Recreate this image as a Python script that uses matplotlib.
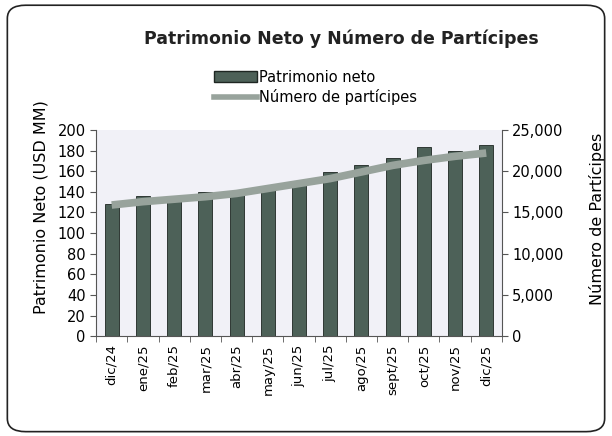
import numpy as np
import matplotlib
matplotlib.use("Agg")
import matplotlib.pyplot as plt
from matplotlib.patches import FancyBboxPatch, Patch
from matplotlib.lines import Line2D

#+++ Data
months = ["dic/24", "ene/25", "feb/25", "mar/25", "abr/25", "may/25", "jun/25",
          "jul/25", "ago/25", "sept/25", "oct/25", "nov/25", "dic/25"]
patrimonio = [128, 136, 131, 140, 137, 143, 148, 159, 166, 173, 183, 180, 185]
participes = [15900, 16300, 16600, 16900, 17300, 17900, 18500, 19100, 19900, 20700, 21300, 21800, 22200]
#---

plt.rcParams["font.family"] = ["DejaVu Sans"]
bar_color = "#4d6158"
line_color = "#98a39c"

fig = plt.figure(figsize=(6.12, 4.36), dpi=100)
fig.patch.set_facecolor("white")
# rounded chart border (drawn behind everything else)
frame = FancyBboxPatch((0.012, 0.01), 0.976, 0.978, boxstyle="round,pad=0,rounding_size=0.03",
                       transform=fig.transFigure, facecolor="none", edgecolor="#222222", lw=1.2, zorder=-1)
fig.patches.append(frame)

ax = fig.add_axes([0.157, 0.229, 0.663, 0.473])
ax.set_facecolor("#f1f1f7")
x = np.arange(len(months))
ax.bar(x, patrimonio, width=0.45, color=bar_color, edgecolor="#1e2622", linewidth=0.6, zorder=2)
ax.set_xlim(-0.5, len(months) - 0.5)
ax.set_ylim(0, 200)
ax.set_yticks(np.arange(0, 201, 20))
ax.tick_params(axis="y", labelsize=10.5, length=4, direction="out", color="#555555")
ax.set_xticks(x)
ax.set_xticklabels(months, rotation=90, fontsize=9.5)
ax.tick_params(axis="x", length=0, pad=6)
ax.set_xticks(np.arange(-0.5, len(months)), minor=True)
ax.tick_params(axis="x", which="minor", length=4, color="#555555")
ax.spines["top"].set_visible(False)
ax.spines["right"].set_visible(False)
ax.spines["left"].set_color("#555555")
ax.spines["bottom"].set_color("#555555")
ax.set_ylabel("Patrimonio Neto (USD MM)", fontsize=11.5)
ax.yaxis.set_label_coords(-0.118, 0.627)

ax2 = ax.twinx()
ax2.plot(x, participes, color=line_color, lw=5.5, solid_capstyle="butt", zorder=3)
ax2.set_ylim(0, 25000)
ax2.set_yticks(np.arange(0, 25001, 5000))
ax2.set_yticklabels([f"{v:,}" for v in range(0, 25001, 5000)])
ax2.tick_params(axis="y", labelsize=10.5, length=4, color="#555555")
for s in ["top", "left", "bottom"]:
    ax2.spines[s].set_visible(False)
ax2.spines["right"].set_color("#555555")
ax2.set_ylabel("Número de Partícipes", fontsize=11.5)
ax2.yaxis.set_label_coords(1.215, 0.568)

fig.text(0.558, 0.912, "Patrimonio Neto y Número de Partícipes", ha="center", va="center",
         fontsize=12.5, fontweight="bold", color="#222222")

handles = [Patch(facecolor=bar_color, edgecolor="#1e2622", label="Patrimonio neto"),
           Line2D([0], [0], color=line_color, lw=4, label="Número de partícipes")]
fig.legend(handles=handles, loc="center", bbox_to_anchor=(0.515, 0.80), frameon=False,
           fontsize=10.5, handlelength=3.0, handletextpad=0.1, labelspacing=0.3, borderpad=0)

fig.savefig("out.png", dpi=100)
